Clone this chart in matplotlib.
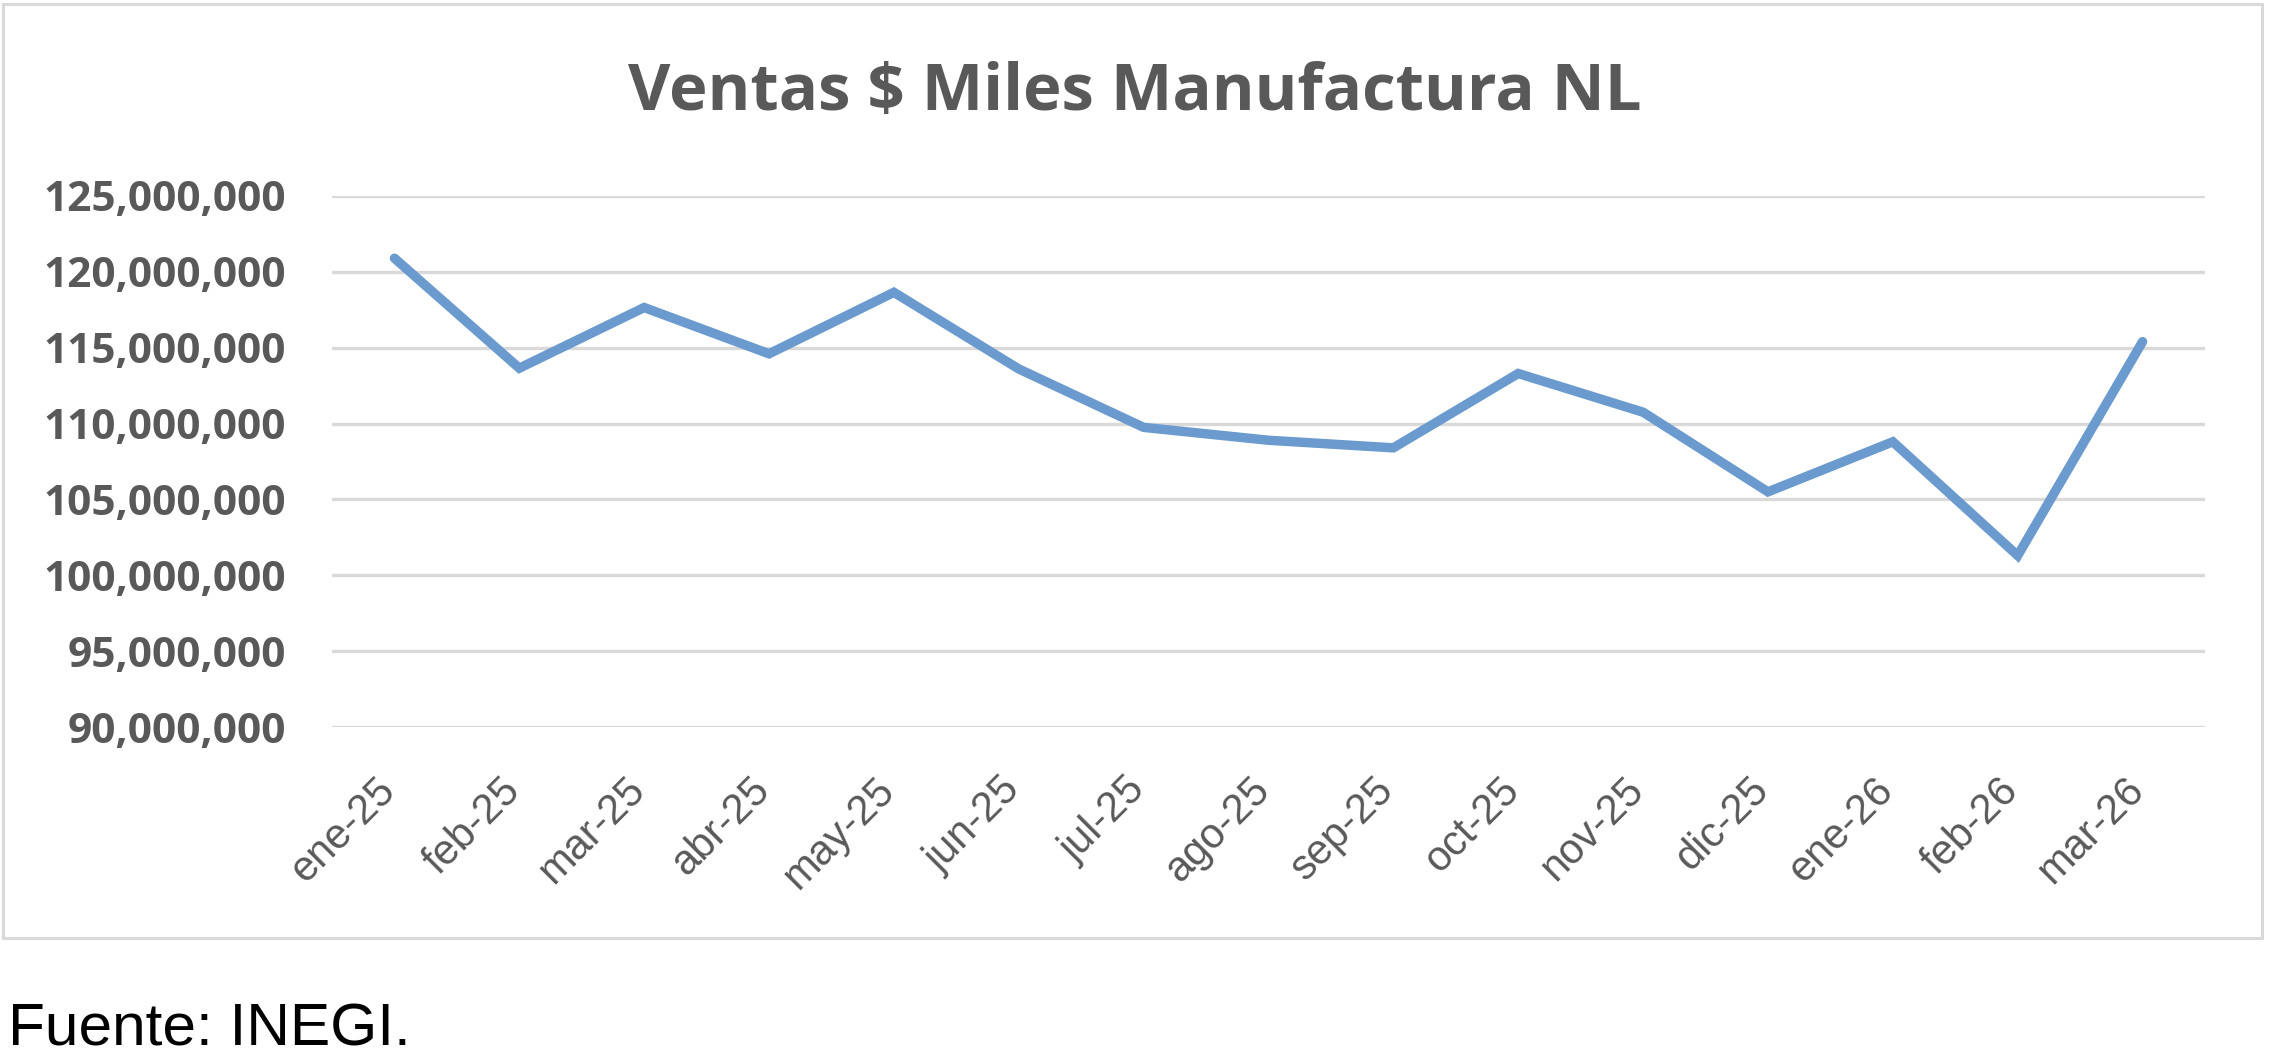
import matplotlib
matplotlib.use("Agg")
import matplotlib.pyplot as plt
import matplotlib.transforms as mtransforms
from matplotlib.patches import Rectangle
from matplotlib.ticker import FuncFormatter

months = ["ene-25", "feb-25", "mar-25", "abr-25", "may-25", "jun-25", "jul-25",
          "ago-25", "sep-25", "oct-25", "nov-25", "dic-25", "ene-26", "feb-26", "mar-26"]
ventas = [120900000, 113650000, 117650000, 114600000, 118650000, 113600000, 109750000,
          108900000, 108400000, 113300000, 110750000, 105500000, 108800000, 101300000, 115400000]
y_ticks = [90000000, 95000000, 100000000, 105000000, 110000000, 115000000, 120000000, 125000000]

title = "Ventas $ Miles Manufactura NL"
source = "Fuente: INEGI."

W, H = 2272, 1064
fig = plt.figure(figsize=(W / 100, H / 100), dpi=100)
fig.patch.set_facecolor("white")

# chart border
fig.patches.append(Rectangle((3 / W, 1 - 938 / H), (2262 - 3) / W, (938 - 4) / H,
                             transform=fig.transFigure, fill=False,
                             edgecolor="#D9D9D9", linewidth=2.2, zorder=0))

ax = fig.add_axes([332 / W, 1 - 727 / H, (2205 - 332) / W, (727 - 196) / H])
x = list(range(len(months)))
ax.plot(x, ventas, color="#6A9ACE", linewidth=6.8, solid_capstyle="round",
        solid_joinstyle="miter", zorder=3)

ax.set_xlim(-0.5, len(months) - 0.5)
ax.set_ylim(y_ticks[0], y_ticks[-1])
ax.set_yticks(y_ticks)
ax.yaxis.set_major_formatter(FuncFormatter(lambda v, p: f"{int(v):,}"))
ax.grid(axis="y", color="#D9D9D9", linewidth=2.4, zorder=1)
ax.set_axisbelow(True)
for s in ax.spines.values():
    s.set_visible(False)
ax.tick_params(axis="both", length=0)
ax.tick_params(axis="y", pad=33)
for lab in ax.get_yticklabels():
    lab.set_fontfamily("Open Sans")
    lab.set_fontweight("bold")
    lab.set_fontsize(30.5)
    lab.set_color("#595959")

ax.set_xticks(x)
ax.set_xticklabels(months, rotation=45, ha="right", fontsize=30,
                   fontfamily="Liberation Sans", color="#595959")
ax.tick_params(axis="x", pad=31)
offset = mtransforms.ScaledTranslation(9 / 100, 0, fig.dpi_scale_trans)
for lab in ax.get_xticklabels():
    lab.set_transform(lab.get_transform() + offset)

fig.text(1135 / W, 1 - 110 / H, title, ha="center", va="baseline",
         fontfamily="Open Sans", fontweight="bold", fontsize=47, color="#595959")
fig.text(8 / W, 1 - 1045 / H, source, ha="left", va="baseline",
         fontfamily="Liberation Sans", fontsize=43.5, color="black")

fig.savefig("out.png", dpi=100, facecolor="white")
